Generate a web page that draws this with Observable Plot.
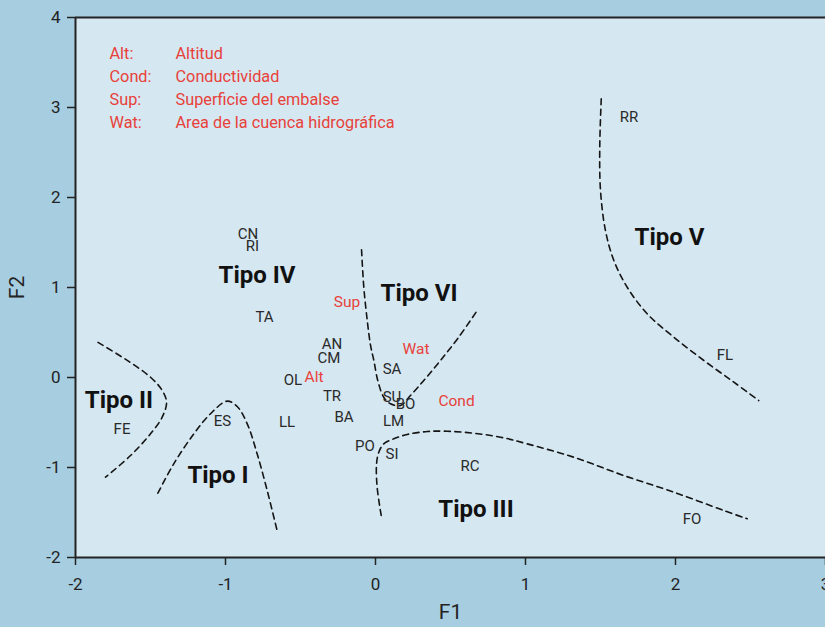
<!DOCTYPE html>
<html><head><meta charset="utf-8">
<script src="https://cdn.jsdelivr.net/npm/d3@7"></script>
<script src="https://cdn.jsdelivr.net/npm/@observablehq/plot@0.6"></script>
<style>
html,body{margin:0;padding:0;background:#a6cde0;overflow:hidden;}
#chart svg{display:block;}
</style></head><body><div id="chart"></div>
<script>
// Axis ticks
const xTicks = [-2, -1, 0, 1, 2, 3];
const yTicks = [-2, -1, 0, 1, 2, 3, 4];

// Reservoir (site) scores
const siteNames = ["CN","RI","TA","AN","CM","OL","TR","BA","LL","ES","FE","PO","SI","LM","SU","BO","SA","RC","RR","FL","FO"];
const siteF1 = [-0.85,-0.82,-0.74,-0.29,-0.31,-0.55,-0.29,-0.21,-0.59,-1.02,-1.69,-0.07,0.11,0.12,0.11,0.20,0.11,0.63,1.69,2.33,2.11];
const siteF2 = [1.59,1.46,0.67,0.37,0.22,-0.03,-0.21,-0.44,-0.50,-0.49,-0.57,-0.76,-0.85,-0.48,-0.22,-0.30,0.09,-0.98,2.89,0.25,-1.57];

// Environmental variables
const varNames = ["Alt","Sup","Wat","Cond"];
const varF1 = [-0.41,-0.19,0.27,0.54];
const varF2 = [0.01,0.84,0.32,-0.26];

// Type labels
const typeNames = ["Tipo I","Tipo II","Tipo III","Tipo IV","Tipo V","Tipo VI"];
const typeF1 = [-1.05,-1.71,0.67,-0.79,1.96,0.29];
const typeF2 = [-1.09,-0.25,-1.47,1.14,1.56,0.93];

// Legend
const legendAbbr = ["Alt:","Cond:","Sup:","Wat:"];
const legendDesc = ["Altitud","Conductividad","Superficie del embalse","Area de la cuenca hidrográfica"];

// Boundary curves (dashed)
const tipoII_x = [-1.85,-1.655,-1.50,-1.422,-1.393,-1.422,-1.50,-1.633,-1.80];
const tipoII_y = [0.39,0.19,0.003,-0.144,-0.274,-0.441,-0.626,-0.867,-1.108];
const tipoI_x = [-1.451,-1.345,-1.211,-1.10,-0.989,-0.922,-0.855,-0.789,-0.722,-0.655];
const tipoI_y = [-1.286,-0.959,-0.626,-0.403,-0.263,-0.322,-0.515,-0.848,-1.256,-1.708];
const tipoVI_x = [-0.093,-0.078,-0.055,-0.033,-0.011,0.015,0.055,0.10,0.167,0.233,0.322,0.433,0.553,0.678];
const tipoVI_y = [1.419,1.004,0.633,0.356,0.189,-0.033,-0.219,-0.292,-0.311,-0.20,-0.033,0.189,0.444,0.744];
const tipoIII_x = [0.038,0.011,0.007,0.022,0.055,0.122,0.211,0.345,0.478,0.655,0.833,1.011,1.322,1.655,1.989,2.322,2.478];
const tipoIII_y = [-1.533,-1.219,-0.959,-0.83,-0.737,-0.681,-0.633,-0.60,-0.597,-0.619,-0.663,-0.737,-0.886,-1.089,-1.274,-1.478,-1.57];
const tipoV_x = [1.505,1.495,1.50,1.533,1.589,1.678,1.811,1.989,2.189,2.389,2.555];
const tipoV_y = [3.097,2.559,2.078,1.633,1.30,1.003,0.708,0.448,0.189,-0.052,-0.256];

const curves = [];
[["II",tipoII_x,tipoII_y],["I",tipoI_x,tipoI_y],["VI",tipoVI_x,tipoVI_y],["III",tipoIII_x,tipoIII_y],["V",tipoV_x,tipoV_y]]
  .forEach(([id, xs, ys]) => xs.forEach((x, i) => curves.push({id, x, y: ys[i]})));

const sites = siteNames.map((n, i) => ({n, x: siteF1[i], y: siteF2[i]}));
const vars = varNames.map((n, i) => ({n, x: varF1[i], y: varF2[i]}));
const types = typeNames.map((n, i) => ({n, x: typeF1[i], y: typeF2[i]}));

const ink = "#232323";
const fmt = d => String(d).replace("−", "-");
const chart = Plot.plot({
  width: 825, height: 627,
  marginLeft: 75, marginRight: 0, marginTop: 17, marginBottom: 70,
  x: {domain: [xTicks[0], xTicks[xTicks.length - 1]]},
  y: {domain: [yTicks[0], yTicks[yTicks.length - 1]]},
  style: {background: "#a6cde0", fontFamily: "Roboto, sans-serif", fontSize: "16px", color: ink, overflow: "hidden"},
  marks: [
    Plot.frame({fill: "#d5e7f1", stroke: null}),
    Plot.axisY({ticks: yTicks, tickSize: 8, tickPadding: 7, label: null, tickFormat: fmt, fontSize: 17, strokeWidth: 1.5, stroke: ink}),
    Plot.axisX({ticks: xTicks, tickSize: 8, tickPadding: 12, label: null, tickFormat: fmt, fontSize: 17, strokeWidth: 1.5, stroke: ink}),
    Plot.ruleX([xTicks[0]], {stroke: ink, strokeWidth: 2}),
    Plot.ruleY([yTicks[0], yTicks[yTicks.length - 1]], {stroke: ink, strokeWidth: 2}),
    Plot.line(curves, {x: "x", y: "y", z: "id", curve: "catmull-rom", stroke: "#151515", strokeWidth: 1.6, strokeDasharray: "6,4.5"}),
    Plot.text(sites, {x: "x", y: "y", text: "n", fill: "#2a2a2a", fontSize: 15}),
    Plot.text(vars, {x: "x", y: "y", text: "n", fill: "#e8413a", fontSize: 15.5}),
    Plot.text(types, {x: "x", y: "y", text: "n", fill: "#111", fontSize: 24, fontWeight: "bold"}),
    Plot.text([legendAbbr.join("\n")], {frameAnchor: "top-left", dx: 34, dy: 25, lineHeight: 1.42, fill: "#e8413a", fontSize: 16.3}),
    Plot.text([legendDesc.join("\n")], {frameAnchor: "top-left", dx: 100, dy: 25, lineHeight: 1.42, fill: "#e8413a", fontSize: 16.3}),
    Plot.text(["F1"], {frameAnchor: "bottom", lineAnchor: "middle", dy: 55, fontSize: 21, fill: ink}),
    Plot.text(["F2"], {frameAnchor: "left", textAnchor: "middle", lineAnchor: "middle", rotate: -90, dx: -58, fontSize: 21, fill: ink})
  ]
});
document.getElementById("chart").appendChild(chart);
</script>
</body></html>
